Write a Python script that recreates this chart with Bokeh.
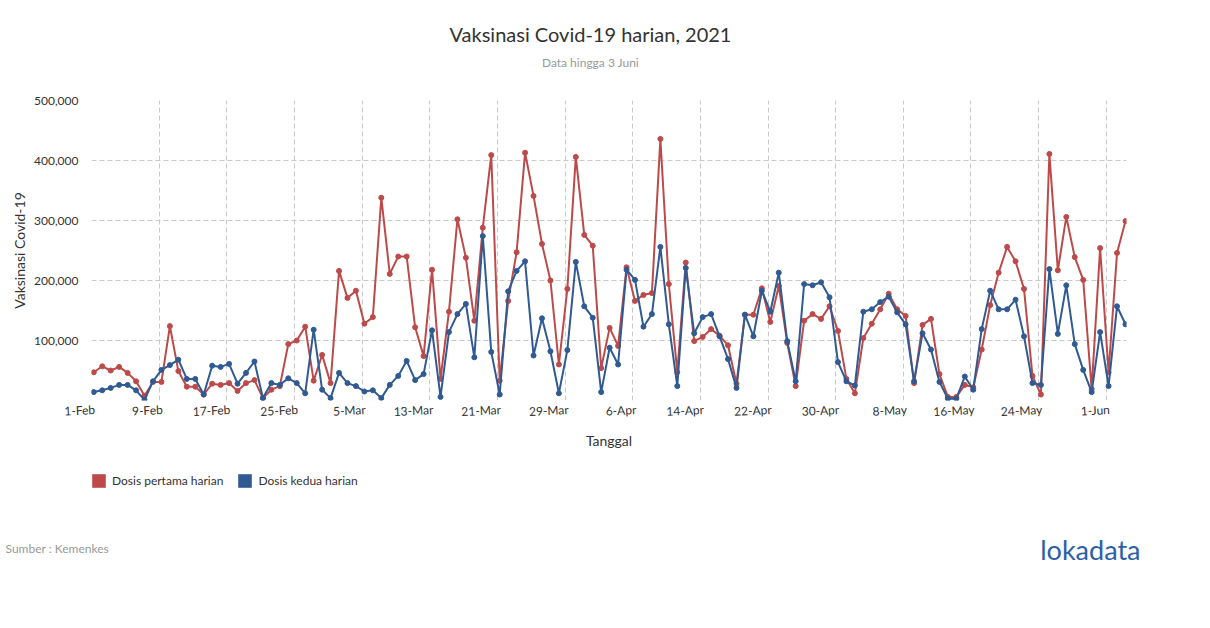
import math
import pandas as pd
from bokeh.plotting import figure
from bokeh.layouts import column
from bokeh.models import (Range1d, FixedTicker, NumeralTickFormatter, Label,
                          ColumnDataSource, Legend, LegendItem)
from bokeh.embed import file_html
from bokeh.resources import INLINE

# ---------------- data ----------------
dates = pd.date_range("2021-02-01", "2021-06-03", freq="D")

first_dose_k = [47, 57, 50, 56, 46, 32, 8, 31, 31, 124, 49, 23, 23, 10, 28, 26, 29, 16, 29, 34,
                4, 18, 24, 94, 100, 123, 33, 76, 29, 216, 171, 183, 128, 139, 338, 211, 240, 240, 122, 74,
                218, 36, 148, 302, 238, 133, 288, 409, 33, 166, 247, 413, 341, 261, 200, 60, 186, 406, 276, 258,
                54, 121, 91, 222, 166, 176, 179, 436, 194, 47, 230, 99, 106, 119, 108, 92, 28, 143, 143, 187,
                131, 191, 96, 24, 133, 144, 136, 157, 116, 36, 12, 104, 128, 152, 178, 152, 141, 29, 126, 136,
                44, 6, 6, 26, 22, 85, 159, 213, 256, 232, 186, 41, 10, 411, 217, 306, 239, 201, 19, 254,
                47, 246, 299]

second_dose_k = [14, 17, 21, 26, 26, 17, 1, 32, 51, 59, 68, 36, 36, 10, 58, 56, 61, 28, 46, 65,
                 4, 29, 26, 37, 29, 12, 118, 18, 4, 46, 29, 24, 15, 17, 4, 26, 41, 66, 34, 44,
                 117, 6, 114, 144, 161, 72, 274, 81, 10, 182, 216, 232, 75, 137, 82, 12, 84, 231, 157, 138,
                 14, 88, 60, 218, 201, 123, 144, 256, 127, 24, 221, 112, 139, 144, 107, 69, 21, 143, 107, 183,
                 148, 213, 99, 32, 194, 192, 197, 172, 64, 32, 25, 148, 152, 164, 173, 147, 127, 32, 112, 85,
                 31, 3, 3, 40, 18, 119, 183, 152, 152, 168, 107, 29, 26, 219, 111, 192, 94, 51, 14, 114,
                 24, 157, 127]

tick_labels = ["1-Feb", "9-Feb", "17-Feb", "25-Feb", "5-Mar", "13-Mar", "21-Mar", "29-Mar",
               "6-Apr", "14-Apr", "22-Apr", "30-Apr", "8-May", "16-May", "24-May", "1-Jun"]
y_ticks = [100000, 200000, 300000, 400000, 500000]

series_names = ["Dosis pertama harian", "Dosis kedua harian"]
colors = ["#bd4a4a", "#305a92"]

title_text = "Vaksinasi Covid-19 harian, 2021"
subtitle_text = "Data hingga 3 Juni"
source_text = "Sumber : Kemenkes"
brand_text = "lokadata"

# ---------------- derived ----------------
day = [(d - dates[0]).days for d in dates]
tick_days = [(pd.to_datetime(lab + "-2021", format="%d-%b-%Y") - dates[0]).days for lab in tick_labels]

src = ColumnDataSource(dict(
    x=day,
    first=[v * 1000 for v in first_dose_k],
    second=[v * 1000 for v in second_dose_k],
))

FONT = "Lato"
W = 1202
X0, X1 = -0.27, 122.12


def blank(height):
    f = figure(width=W, height=height, output_backend="svg", toolbar_location=None,
               x_range=Range1d(0, W), y_range=Range1d(height, 0),
               x_axis_type=None, y_axis_type=None, title=None,
               min_border=0, min_border_left=0, min_border_right=0,
               min_border_top=0, min_border_bottom=0)
    f.frame_align = False
    f.outline_line_color = None
    f.xgrid.visible = False
    f.ygrid.visible = False
    f.background_fill_color = "white"
    f.border_fill_color = "white"
    return f


# ---------------- header ----------------
HDR = 90
header = blank(HDR)
header.add_layout(Label(x=590, y=33, text=title_text, text_align="center", text_baseline="middle",
                        text_font=FONT, text_font_size="20px", text_color="#333333"))
header.add_layout(Label(x=590, y=62, text=subtitle_text, text_align="center", text_baseline="middle",
                        text_font=FONT, text_font_size="12px", text_color="#999999"))

# ---------------- main chart ----------------
p = figure(width=W, height=370, output_backend="svg", toolbar_location=None, title=None,
           x_range=Range1d(X0, X1), y_range=Range1d(0, 500000),
           min_border_left=91, min_border_right=76, min_border_top=10, min_border_bottom=60)
p.frame_align = False
p.outline_line_color = None
p.background_fill_color = "white"
p.border_fill_color = "white"

p.xgrid.ticker = FixedTicker(ticks=[t - 0.27 for t in tick_days])
p.ygrid.ticker = FixedTicker(ticks=[0] + y_ticks)
for g in (p.xgrid, p.ygrid):
    g.grid_line_color = "#c8c8c8"
    g.grid_line_dash = "5 3"
    g.grid_line_width = 1

ya = p.yaxis[0]
ya.ticker = FixedTicker(ticks=y_ticks)
ya.formatter = NumeralTickFormatter(format="0,0")
ya.axis_line_color = None
ya.major_tick_line_color = None
ya.minor_tick_line_color = None
ya.major_tick_out = 0
ya.major_tick_in = 0
ya.major_label_standoff = 13
ya.major_label_text_font = FONT
ya.major_label_text_font_size = "12px"
ya.major_label_text_color = "#333333"
ya.axis_label = "Vaksinasi Covid-19"
ya.axis_label_text_font = FONT
ya.axis_label_text_font_size = "14px"
ya.axis_label_text_font_style = "normal"
ya.axis_label_text_color = "#333333"
ya.axis_label_standoff = 3

xa = p.xaxis[0]
xa.ticker = FixedTicker(ticks=[t + 0.15 for t in tick_days])
xa.major_label_overrides = {t + 0.15: lab for t, lab in zip(tick_days, tick_labels)}
xa.major_label_orientation = 0.05
xa.axis_line_color = None
xa.major_tick_line_color = None
xa.minor_tick_line_color = None
xa.major_tick_out = 0
xa.major_tick_in = 0
xa.major_label_standoff = 9
xa.major_label_text_font = FONT
xa.major_label_text_font_size = "12px"
xa.major_label_text_color = "#333333"
xa.axis_label = "Tanggal"
xa.axis_label_text_font = FONT
xa.axis_label_text_font_size = "14px"
xa.axis_label_text_font_style = "normal"
xa.axis_label_text_color = "#333333"
xa.axis_label_standoff = 2

for col, c in zip(["first", "second"], colors):
    p.line("x", col, source=src, line_color=c, line_width=2)
    p.scatter("x", col, source=src, size=5, fill_color=c, line_color=c)

# ---------------- footer ----------------
FTR = 160
footer = blank(FTR)
nan = [math.nan]
legend_rs = [footer.quad(left=nan, right=nan, top=nan, bottom=nan, fill_color=c, line_color=None)
             for c in colors]
legend = Legend(items=[LegendItem(label=n, renderers=[r]) for n, r in zip(series_names, legend_rs)],
                location=(90, FTR - 29), orientation="horizontal",
                glyph_width=17, glyph_height=17, label_height=17, label_standoff=5, spacing=13,
                padding=0, margin=0, border_line_color=None, background_fill_alpha=0,
                label_text_font=FONT, label_text_font_size="12px", label_text_color="#333333")
footer.add_layout(legend)
footer.add_layout(Label(x=5, y=88, text=source_text, text_align="left", text_baseline="middle",
                        text_font=FONT, text_font_size="12px", text_color="#999999"))
footer.add_layout(Label(x=1140, y=89, text=brand_text, text_align="right", text_baseline="middle",
                        text_font=FONT, text_font_size="27px", text_font_style="normal",
                        text_color="#2b5fa8"))

layout = column(header, p, footer, spacing=0)
open("out.html", "w").write(file_html(layout, INLINE))
